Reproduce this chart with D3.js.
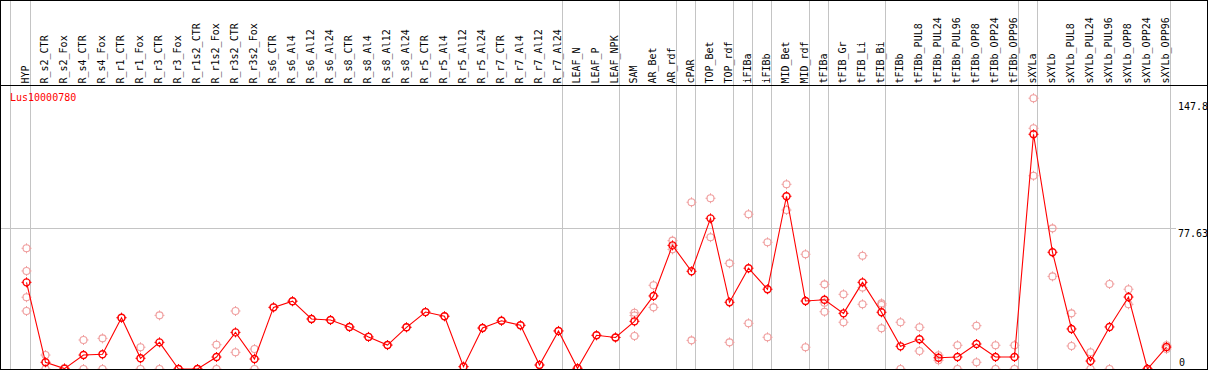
<!DOCTYPE html>
<html>
<head>
<meta charset="utf-8">
<script src="https://cdn.jsdelivr.net/npm/d3@7"></script>
<style>
  html, body { margin: 0; padding: 0; background: #fff; }
  svg { display: block; }
  text { font-family: "DejaVu Sans Mono", monospace; font-size: 10px; }
</style>
</head>
<body>
<div id="chart"></div>
<script>
// --- DATA ---
const geneName = "Lus10000780";

const categories = [
    "HYP", "R_s2_CTR", "R_s2_Fox", "R_s4_CTR", "R_s4_Fox", "R_r1_CTR", "R_r1_Fox",
    "R_r3_CTR", "R_r3_Fox", "R_r1s2_CTR", "R_r1s2_Fox", "R_r3s2_CTR", "R_r3s2_Fox",
    "R_s6_CTR", "R_s6_Al4", "R_s6_Al12", "R_s6_Al24", "R_s8_CTR", "R_s8_Al4", "R_s8_Al12",
    "R_s8_Al24", "R_r5_CTR", "R_r5_Al4", "R_r5_Al12", "R_r5_Al24", "R_r7_CTR", "R_r7_Al4",
    "R_r7_Al12", "R_r7_Al24", "LEAF_N", "LEAF_P", "LEAF_NPK", "SAM", "AR_Bet", "AR_rdf",
    "cPAR", "TOP_Bet", "TOP_rdf", "iFIBa", "iFIBb", "MID_Bet", "MID_rdf", "tFIBa",
    "tFIB_Gr", "tFIB_Li", "tFIB_Bi", "tFIBb", "tFIBb_PUL8", "tFIBb_PUL24", "tFIBb_PUL96",
    "tFIBb_OPP8", "tFIBb_OPP24", "tFIBb_OPP96", "sXYLa", "sXYLb", "sXYLb_PUL8",
    "sXYLb_PUL24", "sXYLb_PUL96", "sXYLb_OPP8", "sXYLb_OPP24", "sXYLb_OPP96"
];

const meanValues = [
    47.8, 3.7, 0.2, 7.7, 8.1, 28.3, 5.9, 14.7, 0, 0, 6.6, 20.2, 5.5,
    34.0, 37.4, 27.6, 27.0, 23.2, 17.7, 13.2, 23.0, 31.4, 29.1, 1.3, 22.6, 26.6, 24.1,
    2.2, 21.0, 0.4, 18.6, 17.4, 26.3, 40.3, 68.2, 53.9, 83.1, 36.8, 55.6, 44.0, 95.3,
    37.5, 38.2, 30.7, 47.8, 31.3, 12.5, 16.4, 6.2, 6.6, 13.8, 6.6, 6.6, 129.5, 64.4,
    22.1, 4.4, 23.2, 39.7, 0, 12.1
];

const replicateValues = [
    [66.6, 54.1, 39.6, 32.0], [7.7, 0], [0.5, 0], [16.0, 0], [16.9, 0], [28.3], [12.0, 0],
    [29.6, 0], [0, 0], [0, 0], [13.4, 0], [32.0, 9.2], [11.0, 0],
    [34.0], [37.4], [27.6], [27.0], [23.2], [17.7], [13.2], [23.0], [31.4], [29.1], [1.3],
    [22.6], [26.6], [24.1], [2.2], [21.0], [0.4], [18.6], [17.4],
    [31.0, 29.5, 18.2], [46.2, 34.0], [70.8, 66.0], [92.0, 15.8], [94.2, 72.7], [58.3, 14.7],
    [85.4, 25.2], [69.9, 17.5], [101.9, 87.7], [63.3, 12.0], [46.7, 36.6, 31.6], [41.2, 25.8],
    [62.5, 44.9, 35.7], [36.2, 35.3, 22.5], [25.8, 0], [23.0, 9.9], [7.6, 4.8], [13.1, 0],
    [23.9, 3.7], [13.1, 0], [13.1, 0], [149.4, 132.8, 106.6], [77.6, 51.1], [30.7, 12.7],
    [9.2, 0], [46.9, 0], [44.0, 35.7], [0, 0], [13.1, 11.0]
];

const yTicks = [0, 77.63, 147.8];
const gridTicks = [77.63];

// last column of each group -> grey separator after it
const groupEnds = ["HYP", "R_r7_Al24", "LEAF_NPK", "AR_rdf", "cPAR", "TOP_rdf", "iFIBa",
    "iFIBb", "MID_rdf", "tFIBa", "tFIB_Bi", "tFIBb_OPP96", "sXYLa", "sXYLb_OPP96"];

// --- SETUP ---
const width = 1209, height = 370;
const frameRight = 1207.5, frameBottom = 369.5, headerY = 85.5;

const svg = d3.select("#chart").append("svg")
    .attr("width", width)
    .attr("height", height);

const x = d3.scalePoint()
    .domain(categories)
    .range([26.5, 26.5 + 19 * (categories.length - 1)]);

const y = d3.scaleLinear()
    .domain([0, 147.8])
    .range([369, 101.1]);

const grey = "#c4c4c4";
const paleRed = "#f0a0a0";
const red = "#ff0000";

// --- GRID ---
const grid = svg.append("g").attr("shape-rendering", "crispEdges");

grid.selectAll("line.sep")
    .data(groupEnds)
    .join("line")
    .attr("class", "sep")
    .attr("x1", d => x(d) + 4)
    .attr("x2", d => x(d) + 4)
    .attr("y1", 0)
    .attr("y2", frameBottom)
    .attr("stroke", grey);

grid.append("line")
    .attr("x1", x(categories[0]) - 16)
    .attr("x2", x(categories[0]) - 16)
    .attr("y1", 0)
    .attr("y2", frameBottom)
    .attr("stroke", grey);

grid.selectAll("line.h")
    .data(gridTicks)
    .join("line")
    .attr("class", "h")
    .attr("x1", 0)
    .attr("x2", 1176)
    .attr("y1", d => Math.round(y(d)) + 0.5)
    .attr("y2", d => Math.round(y(d)) + 0.5)
    .attr("stroke", grey);

// --- COLUMN LABELS ---
svg.append("g")
    .selectAll("text")
    .data(categories)
    .join("text")
    .attr("transform", d => `translate(${x(d)},83.5) rotate(-90)`)
    .attr("dy", "0.28em")
    .attr("fill", "#000")
    .text(d => d);

// --- MARKERS ---
function marker(sel, color, width) {
    const r = 3.5;
    sel.append("circle")
        .attr("r", r)
        .attr("fill", "none")
        .attr("stroke", color)
        .attr("stroke-width", width);
    sel.append("path")
        .attr("d", `M0,${-r - 1.5}V${-r + 0.5}M0,${r - 0.5}V${r + 1.5}` +
                   `M${-r - 1.5},0H${-r + 0.5}M${r - 0.5},0H${r + 1.5}`)
        .attr("stroke", color)
        .attr("stroke-width", 1);
}

const reps = categories.flatMap((c, i) => replicateValues[i].map(v => ({c, v})));

svg.append("g")
    .selectAll("g")
    .data(reps)
    .join("g")
    .attr("transform", d => `translate(${x(d.c)},${y(d.v)})`)
    .call(marker, paleRed, 1.1);

const meanData = categories.map((c, i) => ({c, v: meanValues[i]}));

svg.append("path")
    .datum(meanData)
    .attr("fill", "none")
    .attr("stroke", red)
    .attr("stroke-width", 1.1)
    .attr("d", d3.line().x(d => x(d.c)).y(d => y(d.v)));

svg.append("g")
    .selectAll("g")
    .data(meanData)
    .join("g")
    .attr("transform", d => `translate(${x(d.c)},${y(d.v)})`)
    .call(marker, red, 1.4);

// --- Y AXIS (right, labels inside) ---
const axis = svg.append("g")
    .attr("transform", "translate(1178,0)")
    .call(d3.axisRight(y).tickValues(yTicks).tickSize(0).tickPadding(0)
        .tickFormat(d => String(d)));
axis.select(".domain").remove();
axis.selectAll("text")
    .attr("font-family", "DejaVu Sans Mono, monospace")
    .attr("font-size", 10)
    .attr("fill", "#000")
    .attr("x", d => d === 0 ? 1 : 0)
    .attr("dy", d => d === 0 ? "-0.4em" : "0.8em");

// --- TITLE ---
svg.append("text")
    .attr("x", 10)
    .attr("y", 100.5)
    .attr("fill", red)
    .text(geneName);

// --- FRAME ---
const frame = svg.append("g")
    .attr("shape-rendering", "crispEdges")
    .attr("stroke", "#000")
    .attr("fill", "none");
frame.append("rect")
    .attr("x", 0.5).attr("y", 0.5)
    .attr("width", frameRight - 0.5)
    .attr("height", frameBottom - 0.5);
frame.append("line")
    .attr("x1", 0).attr("x2", frameRight)
    .attr("y1", headerY).attr("y2", headerY);
</script>
</body>
</html>
